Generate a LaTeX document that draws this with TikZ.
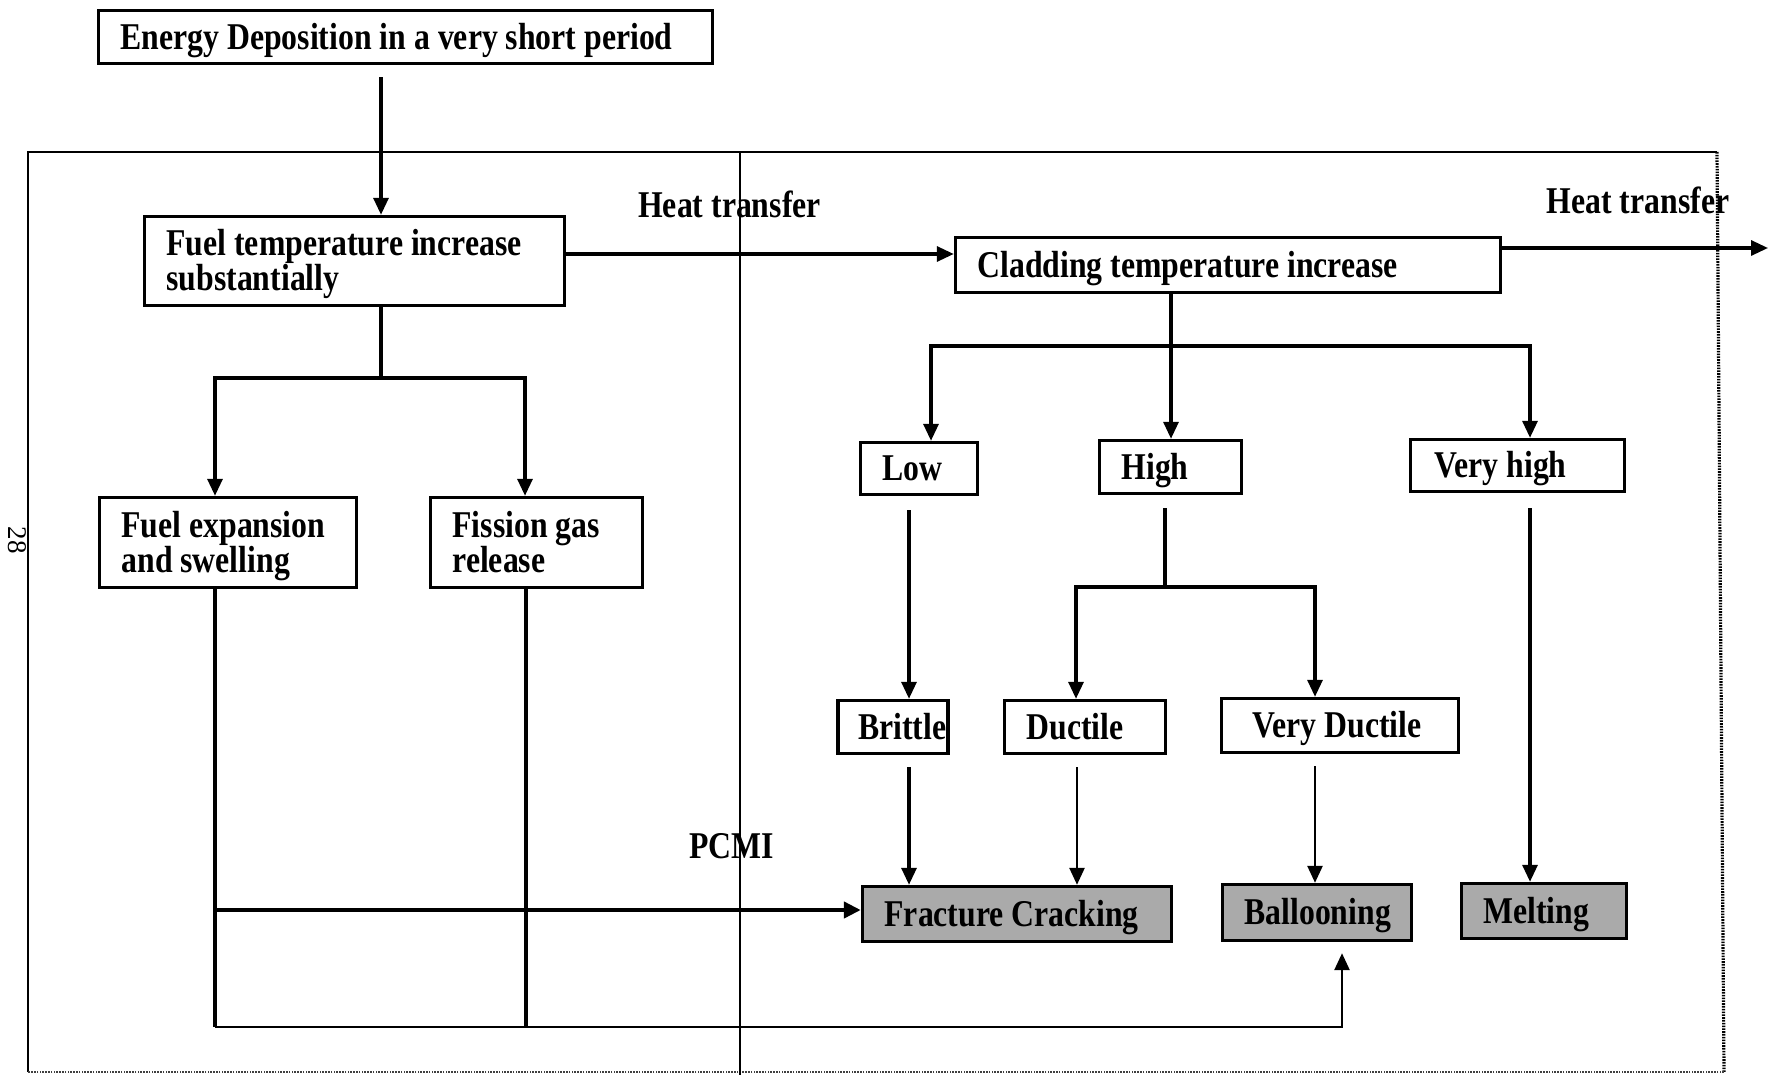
\documentclass[tikz,border=0pt]{standalone}
\usepackage{fontspec}
\newfontfamily\figfont{Liberation Serif}[FakeStretch=0.84]
\newfontfamily\pgnfont{Liberation Serif}
\usetikzlibrary{arrows.meta}
\definecolor{resgray}{RGB}{170,170,170}
\newcommand\topstrut{\rule{0pt}{0.87em}}
\newcommand\botstrut{\rule[-0.21em]{0pt}{0.21em}}
\begin{document}
\begin{tikzpicture}[x=1pt,y=-1pt,
  txt/.style={font=\figfont\bfseries\fontsize{37.8}{35}\selectfont},
  box/.style={txt, draw, line width=3.4pt, rectangle, inner xsep=0pt, inner ysep=0pt,
    align=left, execute at begin node={\leftskip=22pt\rightskip=0pt plus 1fil\spaceskip=0.21em plus 0.05em minus 0.03em\xspaceskip=0.21em\relax\topstrut},
    execute at end node={\botstrut}},
  pad/.style={execute at begin node={\leftskip=#1\relax}},
  res/.style={box, fill=resgray},
  lbl/.style={txt, inner sep=0pt},
  ln/.style={line width=3.2pt},
  thinln/.style={line width=2.6pt},
  arr/.style={ln, -{Triangle[length=17pt,width=15pt]}},
  thinarr/.style={thinln, -{Triangle[length=17pt,width=15pt]}},
  thickarr/.style={line width=4.4pt, -{Triangle[length=17pt,width=16pt]}},
  frameln/.style={line width=2.8pt},
  dotln/.style={line width=3.2pt, dash pattern=on 1.6pt off 1.2pt}
]
\useasboundingbox (0,0) rectangle (1769,1075);

% outer frame and divider
\draw[frameln] (28,1072) -- (28,152) -- (1717,152);
\draw[dotln] (1717,152) -- (1724,1072);
\draw[dotln, black!75, line width=2.6pt] (1724,1072) -- (28,1072);
\draw[frameln, line width=2.4pt] (740,152) -- (740,1075);

% page number
\node[font=\pgnfont\fontsize{27}{27}\selectfont, rotate=-90, inner sep=0pt] (pg) at (17,540) {28};

% nodes
\node[box, minimum height=53pt, text width=614pt] (energy) at (405.5,37) {Energy Deposition in a very short period};
\node[box, minimum height=89pt, text width=420pt] (fuelT) at (354.5,261) {Fuel temperature increase\\substantially};
\node[box, minimum height=55pt, text width=545pt] (clad) at (1228,265) {Cladding temperature increase};
\node[box, minimum height=52pt, text width=117pt] (low) at (919,468.5) {Low};
\node[box, minimum height=53pt, text width=142pt] (high) at (1170.5,467) {High};
\node[box, minimum height=52pt, text width=214pt, pad=24pt] (vhigh) at (1517.5,465.5) {Very high};
\node[box, minimum height=90pt, text width=257pt] (fexp) at (228,542.5) {Fuel expansion\\and swelling};
\node[box, minimum height=90pt, text width=212pt] (fgas) at (536.5,542.5) {Fission gas\\release};
\node[box, minimum height=53pt, text width=110pt, pad=20pt] (brittle) at (893,727) {Brittle};
\node[box, minimum height=53pt, text width=161pt] (ductile) at (1085,727) {Ductile};
\node[box, minimum height=54pt, text width=237pt, pad=31pt] (vductile) at (1340,725.5) {Very Ductile};
\node[res, minimum height=55pt, text width=309pt] (frac) at (1017,914) {Fracture Cracking};
\node[res, minimum height=56pt, text width=189pt] (ball) at (1317,912.5) {Ballooning};
\node[res, minimum height=55pt, text width=165pt] (melt) at (1544,911) {Melting};

% labels
\node[lbl] (ht1) at (729.5,204) {Heat transfer};
\node[lbl] (ht2) at (1638,200) {Heat transfer};
\node[lbl] (pcmi) at (731.5,846) {PCMI};

% coordinates
\coordinate (out) at (1768,248);
\coordinate (fsplit) at (381,378);
\coordinate (csplit) at (1171,346);
\coordinate (hsplit) at (1165,587);
\coordinate (bl) at (215,1027);
\coordinate (pc) at (215,910);

% connectors
\draw[arr, shorten <=12pt] (energy.south -| 381,0) -- (fuelT.north -| 381,0);
\draw[arr] (fuelT.east |- 0,254) -- (clad.west |- 0,254);
\draw[arr] (clad.east |- out) -- (out);

\draw[ln] (fuelT.south -| fsplit) -- (fsplit);
\draw[arr] (fsplit) -| (fexp.north -| 215,0);
\draw[arr] (fsplit) -| (fgas.north -| 525,0);

\draw[arr] (clad.south -| csplit) -- (high.north -| csplit);
\draw[arr] (csplit) -| (low.north -| 931,0);
\draw[arr] (csplit) -| (vhigh.north -| 1530,0);

\draw[arr, shorten <=14pt] (low.south -| 909,0) -- (brittle.north -| 909,0);
\draw[ln, shorten <=13pt] (high.south -| hsplit) -- (hsplit);
\draw[arr] (hsplit) -| (ductile.north -| 1076,0);
\draw[arr] (hsplit) -| (vductile.north -| 1315,0);
\draw[arr, shorten <=15pt] (vhigh.south -| 1530,0) -- (melt.north -| 1530,0);

\draw[arr, shorten <=12pt] (brittle.south -| 909,0) -- (frac.north -| 909,0);
\draw[thinarr, shorten <=12pt] (ductile.south -| 1077,0) -- (frac.north -| 1077,0);
\draw[thinarr, shorten <=12pt] (vductile.south -| 1315,0) -- (ball.north -| 1315,0);

\draw[ln] (fexp.south -| bl) -- (bl);
\draw[ln] (fgas.south -| 526,0) -- (526,1027);
\draw[thickarr] (pc) -- (frac.west |- pc);
\draw[thinarr, shorten >=11pt] (bl) -| (ball.south -| 1342,0);
\end{tikzpicture}
\end{document}
